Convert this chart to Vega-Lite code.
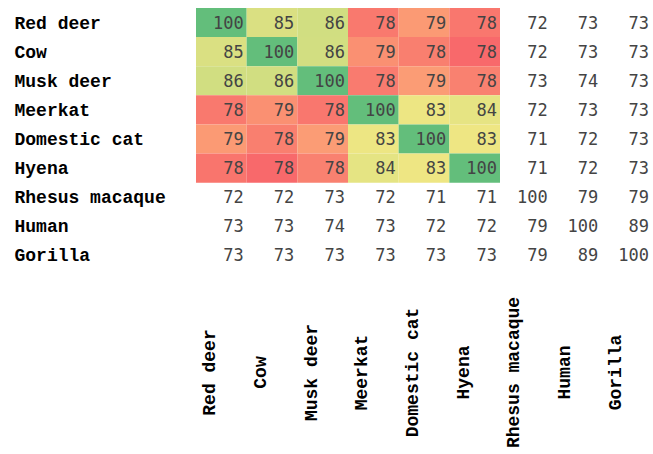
{
  "$schema": "https://vega.github.io/schema/vega-lite/v6.json",
  "autosize": "none",
  "width": 456,
  "height": 262,
  "padding": {"left": 196, "top": 8, "right": 1, "bottom": 184},
  "background": "white",
  "config": {"view": {"stroke": null}},
  "datasets": {
    "cells": [
      {"r": "Red deer", "c": "Red deer", "v": 100},
      {"r": "Red deer", "c": "Cow", "v": 85.4},
      {"r": "Red deer", "c": "Musk deer", "v": 86.4},
      {"r": "Red deer", "c": "Meerkat", "v": 78.0},
      {"r": "Red deer", "c": "Domestic cat", "v": 78.8},
      {"r": "Red deer", "c": "Hyena", "v": 77.95},
      {"r": "Red deer", "c": "Rhesus macaque", "v": 72},
      {"r": "Red deer", "c": "Human", "v": 73},
      {"r": "Red deer", "c": "Gorilla", "v": 73},
      {"r": "Cow", "c": "Red deer", "v": 85.3},
      {"r": "Cow", "c": "Cow", "v": 100},
      {"r": "Cow", "c": "Musk deer", "v": 86.3},
      {"r": "Cow", "c": "Meerkat", "v": 78.55},
      {"r": "Cow", "c": "Domestic cat", "v": 78.15},
      {"r": "Cow", "c": "Hyena", "v": 77.6},
      {"r": "Cow", "c": "Rhesus macaque", "v": 72},
      {"r": "Cow", "c": "Human", "v": 73},
      {"r": "Cow", "c": "Gorilla", "v": 73},
      {"r": "Musk deer", "c": "Red deer", "v": 86.4},
      {"r": "Musk deer", "c": "Cow", "v": 86.4},
      {"r": "Musk deer", "c": "Musk deer", "v": 100},
      {"r": "Musk deer", "c": "Meerkat", "v": 78.05},
      {"r": "Musk deer", "c": "Domestic cat", "v": 78.85},
      {"r": "Musk deer", "c": "Hyena", "v": 78.2},
      {"r": "Musk deer", "c": "Rhesus macaque", "v": 73},
      {"r": "Musk deer", "c": "Human", "v": 74},
      {"r": "Musk deer", "c": "Gorilla", "v": 73},
      {"r": "Meerkat", "c": "Red deer", "v": 78.0},
      {"r": "Meerkat", "c": "Cow", "v": 78.55},
      {"r": "Meerkat", "c": "Musk deer", "v": 77.95},
      {"r": "Meerkat", "c": "Meerkat", "v": 100},
      {"r": "Meerkat", "c": "Domestic cat", "v": 83.0},
      {"r": "Meerkat", "c": "Hyena", "v": 83.9},
      {"r": "Meerkat", "c": "Rhesus macaque", "v": 72},
      {"r": "Meerkat", "c": "Human", "v": 73},
      {"r": "Meerkat", "c": "Gorilla", "v": 73},
      {"r": "Domestic cat", "c": "Red deer", "v": 78.8},
      {"r": "Domestic cat", "c": "Cow", "v": 78.15},
      {"r": "Domestic cat", "c": "Musk deer", "v": 78.85},
      {"r": "Domestic cat", "c": "Meerkat", "v": 83.05},
      {"r": "Domestic cat", "c": "Domestic cat", "v": 100},
      {"r": "Domestic cat", "c": "Hyena", "v": 82.95},
      {"r": "Domestic cat", "c": "Rhesus macaque", "v": 71},
      {"r": "Domestic cat", "c": "Human", "v": 72},
      {"r": "Domestic cat", "c": "Gorilla", "v": 73},
      {"r": "Hyena", "c": "Red deer", "v": 77.9},
      {"r": "Hyena", "c": "Cow", "v": 77.6},
      {"r": "Hyena", "c": "Musk deer", "v": 78.2},
      {"r": "Hyena", "c": "Meerkat", "v": 84.0},
      {"r": "Hyena", "c": "Domestic cat", "v": 82.95},
      {"r": "Hyena", "c": "Hyena", "v": 100},
      {"r": "Hyena", "c": "Rhesus macaque", "v": 71},
      {"r": "Hyena", "c": "Human", "v": 72},
      {"r": "Hyena", "c": "Gorilla", "v": 73},
      {"r": "Rhesus macaque", "c": "Red deer", "v": 72},
      {"r": "Rhesus macaque", "c": "Cow", "v": 72},
      {"r": "Rhesus macaque", "c": "Musk deer", "v": 73},
      {"r": "Rhesus macaque", "c": "Meerkat", "v": 72},
      {"r": "Rhesus macaque", "c": "Domestic cat", "v": 71},
      {"r": "Rhesus macaque", "c": "Hyena", "v": 71},
      {"r": "Rhesus macaque", "c": "Rhesus macaque", "v": 100},
      {"r": "Rhesus macaque", "c": "Human", "v": 79},
      {"r": "Rhesus macaque", "c": "Gorilla", "v": 79},
      {"r": "Human", "c": "Red deer", "v": 73},
      {"r": "Human", "c": "Cow", "v": 73},
      {"r": "Human", "c": "Musk deer", "v": 74},
      {"r": "Human", "c": "Meerkat", "v": 73},
      {"r": "Human", "c": "Domestic cat", "v": 72},
      {"r": "Human", "c": "Hyena", "v": 72},
      {"r": "Human", "c": "Rhesus macaque", "v": 79},
      {"r": "Human", "c": "Human", "v": 100},
      {"r": "Human", "c": "Gorilla", "v": 89},
      {"r": "Gorilla", "c": "Red deer", "v": 73},
      {"r": "Gorilla", "c": "Cow", "v": 73},
      {"r": "Gorilla", "c": "Musk deer", "v": 73},
      {"r": "Gorilla", "c": "Meerkat", "v": 73},
      {"r": "Gorilla", "c": "Domestic cat", "v": 73},
      {"r": "Gorilla", "c": "Hyena", "v": 73},
      {"r": "Gorilla", "c": "Rhesus macaque", "v": 79},
      {"r": "Gorilla", "c": "Human", "v": 89},
      {"r": "Gorilla", "c": "Gorilla", "v": 100}
    ]
  },
  "data": {"name": "cells"},
  "encoding": {
    "x": {
      "field": "c", "type": "nominal",
      "sort": ["Red deer", "Cow", "Musk deer", "Meerkat", "Domestic cat", "Hyena", "Rhesus macaque", "Human", "Gorilla"],
      "scale": {"paddingInner": 0, "paddingOuter": 0},
      "axis": {
        "orient": "bottom", "title": null, "ticks": false, "domain": false,
        "labelAngle": -90, "labelAlign": "center", "labelBaseline": "middle",
        "labelPadding": 102, "labelOffset": -11,
        "labelFont": "Liberation Mono", "labelFontWeight": "bold", "labelFontSize": 18,
        "labelColor": "#000000", "labelOverlap": false, "labelBound": false, "labelFlush": false,
        "labelLimit": 0
      }
    },
    "y": {
      "field": "r", "type": "nominal",
      "sort": ["Red deer", "Cow", "Musk deer", "Meerkat", "Domestic cat", "Hyena", "Rhesus macaque", "Human", "Gorilla"],
      "scale": {"paddingInner": 0, "paddingOuter": 0},
      "axis": {
        "orient": "left", "title": null, "ticks": false, "domain": false,
        "labelAlign": "left", "labelBaseline": "middle", "labelPadding": 182, "labelOffset": 1,
        "labelFont": "Liberation Mono", "labelFontWeight": "bold", "labelFontSize": 18,
        "labelColor": "#000000", "labelOverlap": false, "labelBound": false, "labelLimit": 0
      }
    }
  },
  "layer": [
    {
      "transform": [
        {"filter": "indexof(['Red deer','Cow','Musk deer','Meerkat','Domestic cat','Hyena'], datum.r) >= 0 && indexof(['Red deer','Cow','Musk deer','Meerkat','Domestic cat','Hyena'], datum.c) >= 0"}
      ],
      "mark": {"type": "rect", "strokeWidth": 0},
      "encoding": {
        "color": {
          "field": "v", "type": "quantitative", "legend": null,
          "scale": {"domain": [77.6, 80.8, 100], "range": ["#F8696B", "#FFEB84", "#63BE7B"], "interpolate": "rgb", "clamp": true}
        }
      }
    },
    {
      "mark": {"type": "text", "align": "right", "baseline": "middle", "dx": -3, "dy": 1, "font": "DejaVu Sans Mono", "fontSize": 17, "fill": "#444444"},
      "encoding": {
        "x": {"field": "c", "type": "nominal", "bandPosition": 1, "sort": ["Red deer", "Cow", "Musk deer", "Meerkat", "Domestic cat", "Hyena", "Rhesus macaque", "Human", "Gorilla"]},
        "text": {"field": "v", "type": "quantitative", "format": ".0f"}
      }
    }
  ]
}
